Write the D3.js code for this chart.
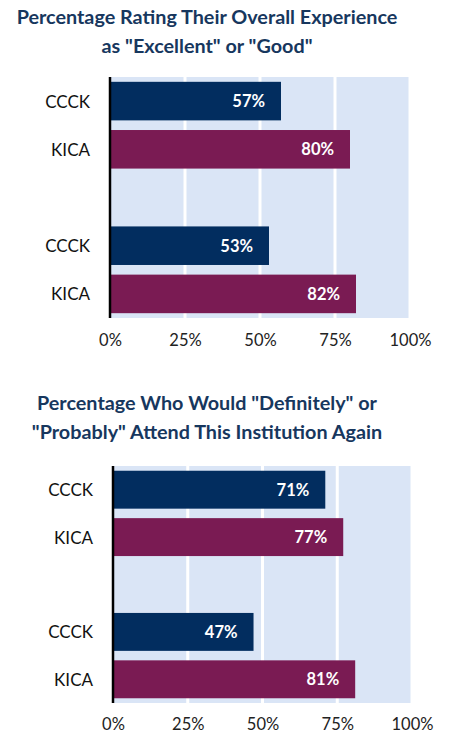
<!DOCTYPE html>
<html><head><meta charset="utf-8">
<script src="https://cdn.jsdelivr.net/npm/d3@7"></script>
<style>body{margin:0;background:#fff}svg{display:block}</style>
</head><body>
<svg id="c" width="449" height="738"></svg>
<script>
const slots = ["CCCK1","KICA1","gap","CCCK2","KICA2"];
const catLabels = ["CCCK","KICA","","CCCK","KICA"];
const series = ["CCCK","KICA","","CCCK","KICA"];
const chart1Title = ["Percentage Rating Their Overall Experience", "as \"Excellent\" or \"Good\""];
const chart1Values = [57, 80, null, 53, 82];
const chart2Title = ["Percentage Who Would \"Definitely\" or", "\"Probably\" Attend This Institution Again"];
const chart2Values = [71, 77, null, 47, 81];
const ticks = [0, 25, 50, 75, 100];

const colors = {CCCK:"#022D5F", KICA:"#7A1B53"};
const svg = d3.select("#c");
const font = "Lato, 'Open Sans', sans-serif";

function drawChart(title, values, cfg){
  const g = svg.append("g");
  g.selectAll("text.title").data(title).join("text")
    .attr("x", cfg.titleX).attr("y", (d,i)=>cfg.titleY + i*29)
    .attr("text-anchor","middle").attr("dominant-baseline","central")
    .attr("font-family", font).attr("font-weight","bold").attr("font-size",19.8)
    .attr("fill","#17375E").text(d=>d);
  const x = d3.scaleLinear().domain([0,100]).range([cfg.x0, cfg.x1]);
  const y = d3.scaleBand().domain(slots).range([cfg.y0, cfg.y1]).paddingInner(0.2).paddingOuter(0.1);
  g.append("rect").attr("x", x(0)).attr("y", cfg.y0).attr("width", x(100)-x(0)).attr("height", cfg.y1-cfg.y0).attr("fill","#DAE5F6");
  g.selectAll("line.grid").data(ticks.slice(1)).join("line")
    .attr("x1", d=>x(d)).attr("x2", d=>x(d)).attr("y1", cfg.y0).attr("y2", cfg.y1)
    .attr("stroke","#fff").attr("stroke-width",3);
  const data = slots.map((s,i)=>({s, v:values[i], label:catLabels[i], ser:series[i]})).filter(d=>d.v!=null);
  g.selectAll("rect.bar").data(data).join("rect")
    .attr("x", x(0)).attr("y", d=>y(d.s)).attr("width", d=>x(d.v)-x(0)).attr("height", y.bandwidth())
    .attr("fill", d=>colors[d.ser]);
  g.selectAll("text.val").data(data).join("text")
    .attr("x", d=>x(d.v)-16).attr("y", d=>y(d.s)+y.bandwidth()/2)
    .attr("text-anchor","end").attr("dominant-baseline","central")
    .attr("font-family", font).attr("font-weight","bold").attr("font-size",16.5).attr("fill","#fff")
    .text(d=>d.v+"%");
  g.selectAll("text.cat").data(data).join("text")
    .attr("x", cfg.x0-20).attr("y", d=>y(d.s)+y.bandwidth()/2)
    .attr("text-anchor","end").attr("dominant-baseline","central")
    .attr("font-family", font).attr("font-size",17).attr("fill","#111")
    .text(d=>d.label);
  g.append("line").attr("x1", x(0)).attr("x2", x(0)).attr("y1", cfg.y0).attr("y2", cfg.y1)
    .attr("stroke","#000").attr("stroke-width",2.5);
  const ax = g.append("g").attr("transform",`translate(0,${cfg.y1})`)
    .call(d3.axisBottom(x).tickValues(ticks).tickFormat(d=>d+"%").tickSize(0).tickPadding(cfg.tickPad));
  ax.select(".domain").remove();
  ax.selectAll("text").attr("font-family", font).attr("font-size",16.5).attr("fill","#222");
}
drawChart(chart1Title, chart1Values, {titleX:207, titleY:16, x0:110, x1:410, y0:77, y1:318, tickPad:16});
drawChart(chart2Title, chart2Values, {titleX:207, titleY:402, x0:113, x1:412, y0:466, y1:703, tickPad:15});
</script>
</body></html>
